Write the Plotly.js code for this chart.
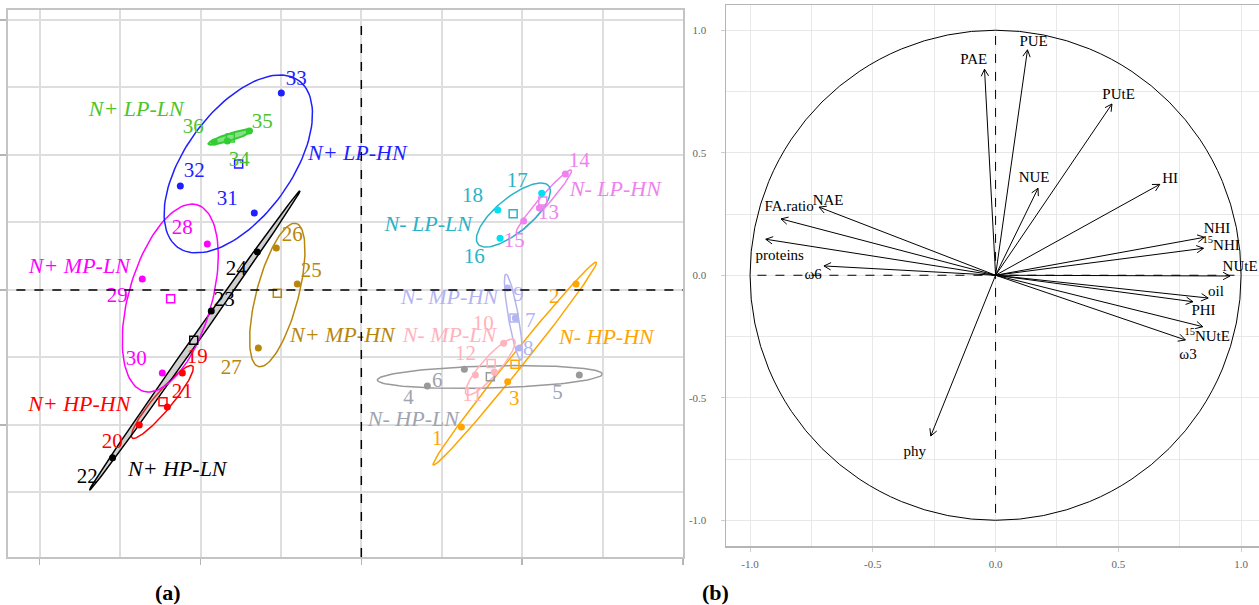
<!DOCTYPE html>
<html><head><meta charset="utf-8">
<script src="https://cdn.plot.ly/plotly-3.0.1.min.js"></script>
<style>html,body{margin:0;padding:0;background:#fff}#chart{width:1259px;height:605px}</style>
</head><body><div id="chart"></div>
<script>
// ---------- Panel (a): sample scores ----------
const groupNames = ['N- HP-HN','N- HP-LN','N- MP-HN','N- MP-LN','N- LP-HN','N- LP-LN',
                    'N+ HP-HN','N+ HP-LN','N+ MP-HN','N+ MP-LN','N+ LP-HN','N+ LP-LN'];
const groupColors = ['#ffa500','#999999','#b4b4f0','#ffb3bd','#ee82ee','#00e0f0',
                     '#ff0000','#000000','#b8860b','#ff00ff','#1f1fff','#33cc33'];
const groupLineColors = ['#ffa500','#999999','#b4b4f0','#ffb3bd','#ee82ee','#2ab3c8',
                     '#ff0000','#000000','#b8860b','#ff00ff','#1f1fff','#33cc33'];
const groupTextColors = ['#ffa500','#a0a4b0','#b4b4f0','#ffb3bd','#ee82ee','#2ab3c8',
                     '#ff0000','#000000','#b8860b','#ff00ff','#1f1fff','#4cc42a'];
const groupLabelX = [3.047, 0.647, 1.095, 1.095, 3.159, 0.833, -3.507, -2.289, -0.236, -3.507, -0.050, -2.799];
const groupLabelY = [-0.726, -1.941, -0.119, -0.696, 1.467, 0.948, -1.704, -2.681, -0.696, 0.326, 2.0, 2.652];

const sampleIds = ['1','2','3','4','5','6','7','8','9','10','11','12','13','14','15','16','17','18',
                   '19','20','21','22','23','24','25','26','27','28','29','30','31','32','33','34','35','36'];
const sampleGroup = [0,0,0,1,1,1,2,2,2,3,3,3,4,4,4,5,5,5,6,6,6,7,7,7,8,8,8,9,9,9,10,10,10,11,11,11];
const sampleX = [1.244,2.670,1.820, 0.821,2.711,1.281, 1.915,1.965,1.816, 1.770,1.654,1.418,
                 2.214,2.537,2.019, 1.725,2.243,1.696, -2.226,-2.761,-2.413, -3.093,-1.866,-1.294,
                 -0.796,-1.057,-1.281, -1.915,-2.724,-2.475, -1.331,-2.251,-0.995, -1.667,-1.393,-1.828];
const sampleY = [-2.030,0.089,-1.358, -1.422,-1.259,-1.175, -0.415,-0.859,0.030, -0.790,-1.216,-1.259,
                 1.215,1.719,1.022, 0.766,1.432,1.185, -1.230,-2.000,-1.733, -2.484,-0.311,0.563,
                 0.089,0.622,-0.859, 0.681,0.163,-1.230, 1.141,1.541,2.919, 2.207,2.356,2.193];
const idLabelX = [0.945,2.400,1.903, 0.585,2.438,0.945, 2.102,2.077,1.953, 1.517,1.381,1.294,
                  2.326,2.711,1.903, 1.405,1.940,1.381, -2.040,-3.097,-2.226, -3.408,-1.704,-1.555,
                  -0.622,-0.858,-1.617, -2.226,-3.035,-2.799, -1.667,-2.077,-0.808, -1.517,-1.231,-2.090];
const idLabelY = [-2.222,-0.119,-1.630, -1.615,-1.541,-1.363, -0.474,-0.889,-0.089, -0.519,-1.570,-0.963,
                  1.126,1.896,0.711, 0.474,1.600,1.378, -1.007,-2.267,-1.526, -2.785,-0.163,0.296,
                  0.267,0.800,-1.170, 0.904,-0.104,-1.037, 1.333,1.748,3.111, 1.911,2.474,2.400];

// confidence ellipses: centre and two conjugate semi-axis vectors (data units)
const ellCx = [1.909, 1.598, 1.891, 1.604, 2.270, 1.891, -2.475, -2.071, -1.045, -2.376, -1.530, -1.629];
const ellCy = [-1.089, -1.289, -0.400, -1.141, 1.311, 1.111, -1.659, -0.748, -0.074, -0.119, 1.867, 2.267];
const ellUx = [1.0147, 1.3988, -0.0932, 0.2984, 0.3418, 0.4395, 0.3758, 1.3088, 0.2336, 0.3325, 0.7530, 0.2726];
const ellUy = [1.5032, 0.0436, 0.6363, 0.4075, 0.4667, 0.4316, 0.5334, 2.2177, 1.0605, 1.3814, 1.2345, 0.1029];
const ellVx = [-0.0678, -0.0036, -0.0613, -0.0844, -0.0469, -0.1369, -0.0857, -0.0356, -0.2527, -0.4962, -0.5333, -0.0131];
const ellVy = [0.0650, 0.1629, -0.0127, 0.0877, 0.0487, 0.1978, 0.0857, 0.0298, 0.0790, 0.1694, 0.4615, 0.0494];

// ---------- Panel (b): correlation circle ----------
const varNames = ['PUE','PAE','PUtE','NUE','HI','NAE','FA.ratio','proteins','ω6','NHI','<sup>15</sup>NHI',
                  'NUtE','oil','PHI','<sup>15</sup>NUtE','ω3','phy'];
const varX = [0.130,-0.045,0.474,0.173,0.669,-0.719,-0.874,-0.936,-0.699,0.851,0.847,0.955,0.866,0.804,0.844,0.773,-0.264];
const varY = [0.920,0.841,0.699,0.355,0.371,0.278,0.230,0.147,0.038,0.155,0.110,-0.003,-0.093,-0.108,-0.210,-0.264,-0.656];
const varLabelX = [0.155,-0.089,0.501,0.157,0.711,-0.682,-0.841,-0.879,-0.743,0.902,0.919,0.996,0.898,0.847,0.862,0.784,-0.329];
const varLabelY = [0.951,0.876,0.733,0.396,0.392,0.304,0.278,0.076,0.001,0.188,0.120,0.031,-0.071,-0.146,-0.253,-0.328,-0.724];

const serif = 'Liberation Serif, Times New Roman, serif';
const traces = [];

// ellipses
for (let g = 0; g < groupNames.length; g++) {
  const ex = [], ey = [];
  for (let k = 0; k <= 120; k++) {
    const t = 2 * Math.PI * k / 120;
    ex.push(ellCx[g] + ellUx[g] * Math.cos(t) + ellVx[g] * Math.sin(t));
    ey.push(ellCy[g] + ellUy[g] * Math.cos(t) + ellVy[g] * Math.sin(t));
  }
  const tr = {x: ex, y: ey, xaxis: 'x', yaxis: 'y', mode: 'lines', type: 'scatter',
    line: {color: groupLineColors[g], width: 1.5}, hoverinfo: 'skip'};
  if (g === 7) { tr.fill = 'toself'; tr.fillcolor = 'rgba(120,120,120,0.35)'; }
  if (g === 11) { tr.fill = 'toself'; tr.fillcolor = 'rgba(51,204,51,0.6)'; tr.line.width = 2; }
  traces.push(tr);
}
// points, centroids, ids
for (let g = 0; g < groupNames.length; g++) {
  const px = [], py = [], lx = [], ly = [], lt = [];
  sampleGroup.forEach((gg, i) => {
    if (gg === g) { px.push(sampleX[i]); py.push(sampleY[i]); lx.push(idLabelX[i]); ly.push(idLabelY[i]); lt.push(sampleIds[i]); }
  });
  const mx = px.reduce((a, b) => a + b, 0) / px.length;
  const my = py.reduce((a, b) => a + b, 0) / py.length;
  traces.push({x: px, y: py, xaxis: 'x', yaxis: 'y', mode: 'markers', type: 'scatter',
    marker: {color: groupColors[g], size: 7}, hoverinfo: 'skip'});
  traces.push({x: [mx], y: [my], xaxis: 'x', yaxis: 'y', mode: 'markers', type: 'scatter',
    marker: {symbol: 'square-open', color: groupLineColors[g], size: 8, line: {width: 1.5, color: groupLineColors[g]}}, hoverinfo: 'skip'});
  traces.push({x: lx, y: ly, text: lt, xaxis: 'x', yaxis: 'y', mode: 'text', type: 'scatter',
    textposition: 'middle center', textfont: {family: serif, size: 21, color: groupTextColors[g]}, hoverinfo: 'skip'});
}
// group labels
traces.push({x: groupLabelX, y: groupLabelY, text: groupNames.map(s => '<i>' + s + '</i>'),
  xaxis: 'x', yaxis: 'y', mode: 'text', type: 'scatter', textposition: 'middle center',
  textfont: {family: serif, size: 22, color: groupTextColors}, hoverinfo: 'skip'});

// arrows panel (b)
const sx = [], sy = [], hx = [], hy = [];
const headLen = 0.032, headAng = 28 * Math.PI / 180;
for (let i = 0; i < varNames.length; i++) {
  sx.push(0, varX[i], null); sy.push(0, varY[i], null);
  const L = Math.hypot(varX[i], varY[i]);
  const dx = varX[i] / L, dy = varY[i] / L;
  const c = Math.cos(headAng), s = Math.sin(headAng);
  const r1x = dx * c - dy * s, r1y = dx * s + dy * c;
  const r2x = dx * c + dy * s, r2y = -dx * s + dy * c;
  hx.push(varX[i] - headLen * r1x, varX[i], varX[i] - headLen * r2x, null);
  hy.push(varY[i] - headLen * r1y, varY[i], varY[i] - headLen * r2y, null);
}
traces.push({x: sx, y: sy, xaxis: 'x2', yaxis: 'y2', mode: 'lines', type: 'scatter',
  line: {color: '#000', width: 1}, hoverinfo: 'skip'});
traces.push({x: hx, y: hy, xaxis: 'x2', yaxis: 'y2', mode: 'lines', type: 'scatter',
  line: {color: '#000', width: 1}, hoverinfo: 'skip'});
traces.push({x: varLabelX, y: varLabelY, text: varNames, xaxis: 'x2', yaxis: 'y2', mode: 'text', type: 'scatter',
  textposition: 'middle center', textfont: {family: serif, size: 15, color: '#000'}, hoverinfo: 'skip'});

const layout = {
  width: 1259, height: 605, margin: {l: 0, r: 0, t: 0, b: 0},
  paper_bgcolor: '#fff', plot_bgcolor: '#fff', showlegend: false,
  xaxis: {domain: [7.5/1259, 683/1259], range: [-4.40, 4.0], tickvals: [-4,-2,0,2,4],
    showticklabels: false, ticks: 'outside', ticklen: 6, tickwidth: 1.5, tickcolor: '#b5b5b5',
    showgrid: true, gridcolor: '#dedede', gridwidth: 2,
    minor: {tickvals: [-3,-1,1,3], showgrid: true, gridcolor: '#dedede', gridwidth: 2},
    zeroline: false, showline: true, mirror: true, linecolor: '#c4c4c4', linewidth: 2},
  yaxis: {domain: [48/605, 595/605], range: [-3.956, 4.148], tickvals: [-2,0,2,4],
    showticklabels: false, ticks: 'outside', ticklen: 6, tickwidth: 1.5, tickcolor: '#b5b5b5',
    showgrid: true, gridcolor: '#dedede', gridwidth: 2,
    minor: {tickvals: [-3,-1,1,3], showgrid: true, gridcolor: '#dedede', gridwidth: 2},
    zeroline: false, showline: true, mirror: true, linecolor: '#c4c4c4', linewidth: 2},
  xaxis2: {domain: [726/1259, 1], range: [-1.098, 1.073], anchor: 'y2',
    tickvals: [-1,-0.5,0,0.5,1], ticktext: ['-1.0','-0.5','0.0','0.5','1.0'],
    tickfont: {family: serif, size: 11, color: '#666'}, ticks: 'outside', ticklen: 4, tickcolor: '#cfcfcf',
    ticklabelstandoff: 3,
    showgrid: true, gridcolor: '#e8e8e8', gridwidth: 1,
    minor: {tickvals: [-0.75,-0.25,0.25,0.75], showgrid: true, gridcolor: '#e8e8e8', gridwidth: 1},
    zeroline: false, showline: true, mirror: true, linecolor: '#b5b5b5', linewidth: 1.5},
  yaxis2: {domain: [59/605, 600/605], range: [-1.105, 1.103], anchor: 'x2',
    tickvals: [-1,-0.5,0,0.5,1], ticktext: ['-1.0','-0.5','0.0','0.5','1.0'],
    tickfont: {family: serif, size: 11, color: '#666'}, ticks: 'outside', ticklen: 4, tickcolor: '#cfcfcf',
    ticklabelstandoff: 12,
    showgrid: true, gridcolor: '#e8e8e8', gridwidth: 1,
    minor: {tickvals: [-0.75,-0.25,0.25,0.75], showgrid: true, gridcolor: '#e8e8e8', gridwidth: 1},
    zeroline: false, showline: true, linecolor: '#b5b5b5', linewidth: 1.5},
  shapes: [
    {type: 'line', xref: 'x', yref: 'y', x0: -4.29, x1: 4.0, y0: 0, y1: 0, line: {color: '#000', width: 1.5, dash: 'dash'}},
    {type: 'line', xref: 'x', yref: 'y', x0: 0, x1: 0, y0: -3.956, y1: 4.0, line: {color: '#000', width: 1.5, dash: 'dash'}},
    {type: 'circle', xref: 'x2', yref: 'y2', x0: -1, x1: 1, y0: -1, y1: 1, line: {color: '#000', width: 1}},
    {type: 'line', xref: 'x2', yref: 'y2', x0: -0.97, x1: 1.0, y0: 0, y1: 0, line: {color: '#000', width: 1, dash: 'dash'}},
    {type: 'line', xref: 'x2', yref: 'y2', x0: 0, x1: 0, y0: -0.97, y1: 1.0, line: {color: '#000', width: 1, dash: 'dash'}}
  ],
  annotations: [
    {text: '<b>(a)</b>', xref: 'paper', yref: 'paper', x: 168/1259, y: 13/605, xanchor: 'center', yanchor: 'middle',
     showarrow: false, font: {family: serif, size: 22, color: '#000'}},
    {text: '<b>(b)</b>', xref: 'paper', yref: 'paper', x: 715/1259, y: 13/605, xanchor: 'center', yanchor: 'middle',
     showarrow: false, font: {family: serif, size: 22, color: '#000'}}
  ]
};
Plotly.newPlot('chart', traces, layout, {staticPlot: true, displayModeBar: false});
</script></body></html>
